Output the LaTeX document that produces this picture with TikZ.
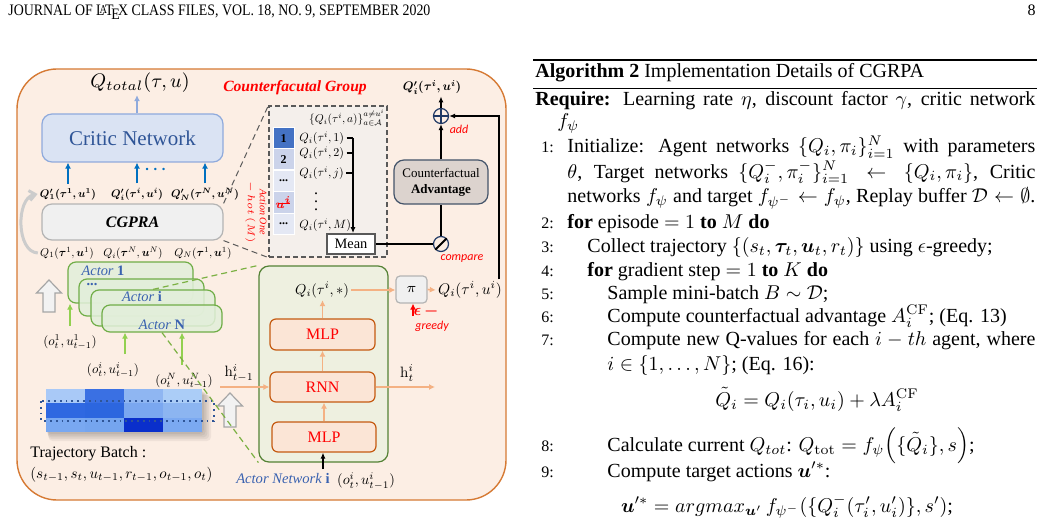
\RequirePackage{fix-cm}
\documentclass[tikz,border=0pt]{standalone}
\usepackage{amsmath,amssymb}
\usepackage{bm}
\usepackage{graphicx}
\usepackage[no-math]{fontspec}
\setmainfont{Liberation Serif}
\newfontfamily\labelfont{Carlito}
\usepackage{tikz}
\usetikzlibrary{arrows.meta,positioning,calc}
\definecolor{panelbg}{HTML}{FCEEE4}
\definecolor{panelln}{HTML}{D67A34}
\definecolor{criticbg}{HTML}{DAE3F3}
\definecolor{criticln}{HTML}{8FAADC}
\definecolor{critictx}{HTML}{2F5597}
\definecolor{actortx}{HTML}{3A62B0}
\definecolor{arrblue}{HTML}{0070C0}
\definecolor{cgbg}{HTML}{F0F0F0}
\definecolor{cgln}{HTML}{B4B4B4}
\definecolor{groupbg}{HTML}{F4EFEB}
\definecolor{inkgray}{HTML}{595959}
\definecolor{actbg}{HTML}{E2EFDA}
\definecolor{actln}{HTML}{70AD47}
\definecolor{netbg}{HTML}{EEF0E0}
\definecolor{netln}{HTML}{548235}
\definecolor{mlpbg}{HTML}{FBE5D6}
\definecolor{mlpln}{HTML}{C55A11}
\definecolor{arrorange}{HTML}{F4B183}
\definecolor{arrgreen}{HTML}{92D050}
\definecolor{advbg}{HTML}{DCD3CE}
\definecolor{advln}{HTML}{44546A}
\definecolor{navy}{HTML}{1F3864}
\definecolor{hollowbg}{HTML}{F2F2F2}
\definecolor{hollowln}{HTML}{A6A6A6}
\definecolor{hot1}{HTML}{4472C4}
\definecolor{hot2}{HTML}{CBD3EA}
\definecolor{hot3}{HTML}{E4E8F4}
\newcommand{\fsz}[1]{\fontsize{#1}{#1}\selectfont}
\newcommand{\smath}[2]{\scalebox{#1}{$#2$}}
\tikzset{
  panel/.style={draw=panelln,fill=panelbg,line width=0.7pt,rounded corners=20pt},
  critic/.style={draw=criticln,fill=criticbg,line width=0.6pt,rounded corners=5pt,
                 text=critictx,font=\fsz{10.5}},
  cgbox/.style={draw=cgln,fill=cgbg,line width=0.6pt,rounded corners=5pt,
                font=\bfseries\itshape\fsz{8}},
  groupbox/.style={draw=inkgray,fill=groupbg,line width=0.6pt,dash pattern=on 2.5pt off 1.5pt},
  onehot/.style={draw=white,line width=0.5pt,inner sep=0pt,font=\bfseries\fsz{6}},
  meanbox/.style={draw=inkgray,fill=white,line width=0.9pt,inner sep=0pt,font=\fsz{7.2}},
  advbox/.style={draw=advln,fill=advbg,line width=0.6pt,rounded corners=5pt,
                 align=center,font=\fontsize{6.5}{8}\selectfont,inner sep=1pt},
  opcircle/.style={circle,draw=navy,line width=0.6pt,minimum size=7.5pt,inner sep=0pt},
  actorbox/.style={draw=actln,fill=actbg,fill opacity=0.85,line width=0.6pt,rounded corners=4pt},
  actorlbl/.style={text=actortx,font=\fsz{7.2},inner sep=0pt},
  netbox/.style={draw=netln,fill=netbg,line width=0.6pt,rounded corners=5pt},
  layerbox/.style={draw=mlpln,fill=mlpbg,line width=0.6pt,rounded corners=3pt,
                   text=red,font=\fsz{8}},
  pibox/.style={draw=cgln,fill=cgbg,line width=0.6pt,rounded corners=2pt,font=\fsz{7}},
  mathlbl/.style={inner sep=1pt,font=\fsz{10}},
  redlbl/.style={text=red,font=\labelfont\itshape\fsz{6},inner sep=1pt},
  hollowarr/.style={draw=hollowln,fill=hollowbg,line width=0.6pt},
  bluearr/.style={-{Latex[length=3pt,width=3pt]},draw=arrblue,line width=0.9pt},
  lightarr/.style={-{Latex[length=3pt,width=3pt]},draw=criticln,line width=0.9pt},
  orangearr/.style={-{Latex[length=3pt,width=3pt]},draw=arrorange,line width=0.8pt},
  greenarr/.style={-{Latex[length=3pt,width=3pt]},draw=arrgreen,line width=0.9pt},
  blackarr/.style={-{Latex[length=3pt,width=2.5pt]},line width=0.8pt},
  redarr/.style={-{Latex[length=3pt,width=3pt]},draw=red,line width=0.9pt},
  greendash/.style={draw=arrgreen!85!black,dash pattern=on 3pt off 2pt,line width=0.6pt},
  graydash/.style={draw=inkgray,dash pattern=on 3pt off 2pt,line width=0.5pt},
  loopback/.style={draw=black!20,line width=1.5pt,-{Straight Barb[length=3pt,width=5pt]}},
  algtext/.style={anchor=base west,inner sep=0pt,font=\fsz{10}},
  algnum/.style={anchor=base west,inner sep=0pt,font=\fsz{8}},
  head/.style={anchor=base west,inner sep=0pt,font=\fsz{8}}
}

\begin{document}
\begin{tikzpicture}[x=0.5pt,y=-0.5pt]
\useasboundingbox (0,0) rectangle (1042,518);
\fill[white] (0,0) rectangle (1042,518);

% running head
\node[head] (runhead) at (8,16)
  {\resizebox{211pt}{\height}{JOURNAL OF \LaTeX\ CLASS FILES, VOL. 18, NO. 9, SEPTEMBER 2020}};
\node[head,anchor=base east] (pagenum) at (1036,16) {8};

% ---------------- figure ----------------
\draw[panel] (17,69) rectangle (506,500);

% critic part
\node[critic,minimum width=90.5pt,minimum height=24pt] (critic) at (132.5,138) {Critic Network};
\node[mathlbl,font=\fsz{9.8}] (qtotal) at (140,83) {$Q_{total}(\tau,u)$};
\node[mathlbl] (q1p) at (68,194) {\smath{0.55}{\bm{Q'_1(\tau^1,u^1)}}};
\node[mathlbl] (qip) at (137,194) {\smath{0.55}{\bm{Q'_i(\tau^i,u^i)}}};
\node[mathlbl] (qNp) at (205,194) {\smath{0.55}{\bm{Q'_N(\tau^N,u^N)}}};
\node[mathlbl,font=\fsz{8},text=arrblue] (qdots) at (157,170) {$\bm{\cdots}$};
\draw[lightarr] (critic.north -| qip) -- (qtotal.south -| qip);
\foreach \q in {q1p,qip,qNp}
  \draw[bluearr] ([yshift=1pt]\q.north) -- (critic.south -| \q);

% CGPRA
\node[cgbox,minimum width=90.5pt,minimum height=18pt] (cgpra) at (132.5,222) {CGPRA};
\node[mathlbl] (q1) at (67,253) {\smath{0.57}{Q_1(\bm{\tau}^1,\bm{u}^1)}};
\node[mathlbl] (qi) at (133,253) {\smath{0.57}{Q_i(\bm{\tau}^N,\bm{u}^N)}};
\node[mathlbl] (qN) at (203,253) {\smath{0.57}{Q_N(\bm{\tau}^1,\bm{u}^1)}};
\draw[loopback] (q1.west) .. controls (16,252) and (16,198) .. (q1p.west);

% counterfactual group
\node[groupbox,minimum width=59pt,minimum height=75.5pt] (group) at (328,181.5) {};
\node[text=red,font=\bfseries\itshape\fsz{7.8}] (grouptitle) at (295,88) {Counterfacutal Group};
\draw[graydash] (cgpra.north east) -- (group.north west);
\draw[graydash] (cgpra.south east) -- (group.south west);
\node[mathlbl] (qset) at (347,118) {\smath{0.57}{\{Q_i(\tau^i,a)\}_{a\in\mathcal{A}}^{a\neq u^i}}};
\foreach \lab/\clr/\y [count=\k] in {{1}/hot1/138.5,{2}/hot2/159.5,{...}/hot3/181,
    {\color{red}$\bm{u^i}$}/hot2/202.5,{...}/hot3/224}
  \node[onehot,fill=\clr,minimum width=10.5pt,minimum height=10.5pt] (cell\k) at (283.5,\y) {\lab};
\draw[red,line width=0.5pt] ([xshift=-3pt,yshift=-0.5pt]cell4.center) -- ([xshift=3pt,yshift=-0.5pt]cell4.center);
\node[text=red,font=\itshape\fontsize{5}{6}\selectfont,rotate=-90,align=center,inner sep=0pt]
  (onehotlbl) at (256,212) {Action One\\$-\,hot\ (M)$};
\node[mathlbl,anchor=west] (qa1) at (297,138) {\smath{0.6}{Q_i(\tau^i,1)}};
\node[mathlbl,anchor=west] (qa2) at (297,153) {\smath{0.6}{Q_i(\tau^i,2)}};
\node[mathlbl,anchor=west] (qaj) at (297,173) {\smath{0.6}{Q_i(\tau^i,j)}};
\node[mathlbl,font=\fsz{8}] (qvdots) at (316,196) {$\vdots$};
\node[mathlbl,anchor=west] (qaM) at (297,225) {\smath{0.6}{Q_i(\tau^i,M)}};
\node[meanbox,minimum width=24pt,minimum height=10pt] (mean) at (351,244) {Mean};
\coordinate (bus) at (353,138);
\foreach \q in {qa1,qa2,qaj,qaM}
  \draw[line width=0.7pt] (\q.east) -- (\q.east -| bus);
\draw[blackarr,line width=0.7pt] (qa1.east -| bus) -- (mean.north -| bus);

% advantage branch
\node[advbox,minimum width=47pt,minimum height=22pt] (adv) at (441,182) {Counterfactual\\\textbf{Advantage}};
\node[opcircle] (addop) at (441,116) {};
\node[opcircle] (cmpop) at (441,244) {};
\draw[navy,line width=0.6pt] (addop.north) -- (addop.south) (addop.west) -- (addop.east);
\draw[line width=1pt] (cmpop.south west) -- (cmpop.north east);
\node[redlbl] (addlbl) at (459,129) {add};
\node[redlbl] (cmplbl) at (462,259) {compare};
\node[mathlbl] (qnew) at (432,87) {\smath{0.62}{\bm{Q'_i(\tau^i,u^i)}}};
\draw[blackarr] (addop.north) -- (qnew.south -| addop);
\draw[blackarr] (adv.north) -- (addop.south);
\draw[line width=0.8pt] (cmpop.north) -- (adv.south);
\draw[line width=0.8pt] (mean.east) -- (cmpop.west);

% actors
\foreach \n/\cx/\cy/\w/\h/\lx/\ly/\txt in {
    1/130.5/282.5/62.5pt/20.5pt/103/271/{\textit{Actor} \textbf{1}},
    2/141.5/297.5/62.5pt/18.5pt/92/285/{\textbf{...}},
    3/153/308/62pt/18pt/142/297/{\textit{Actor} \textbf{i}},
    4/162/318.5/60pt/13.5pt/162/325/{\textit{Actor} \textbf{N}}}{
  \node[actorbox,minimum width=\w,minimum height=\h] (actor\n) at (\cx,\cy) {};
  \node[actorlbl] (actorlbl\n) at (\lx,\ly) {\txt};
}
\node[mathlbl] (in1) at (70,342) {\smath{0.65}{(o_t^1,u_{t-1}^1)}};
\node[mathlbl] (ini) at (113,370) {\smath{0.65}{(o_t^i,u_{t-1}^i)}};
\node[mathlbl] (inN) at (184,381) {\smath{0.65}{(o_t^N,u_{t-1}^N)}};
\draw[greenarr] ([yshift=3pt]in1.north) -- (in1.north |- actor1.south);
\draw[greenarr] ([xshift=6pt,yshift=3pt]ini.north) -- ([xshift=6pt]ini.north |- actor4.south);
\draw[greenarr] ([xshift=-1pt,yshift=3pt]inN.north) -- ([xshift=-1pt]inN.north |- actor4.south);
\foreach \ax/\ay/\by in {49/280/312,230/393/427}
  \draw[hollowarr] (\ax-6,\by) -- (\ax-6,\ay+13) -- (\ax-12.5,\ay+13) -- (\ax,\ay)
    -- (\ax+12.5,\ay+13) -- (\ax+6,\ay+13) -- (\ax+6,\by) -- cycle;

% actor network
\node[netbox,minimum width=64.5pt,minimum height=98pt] (net) at (323.5,364) {};
\draw[greendash] (actor3.north) -- (net.north west);
\draw[greendash] (actor4.south) -- (net.south west);
\node[layerbox,minimum width=52.5pt,minimum height=15.5pt] (mlp2) at (322.5,334.5) {MLP};
\node[layerbox,minimum width=52.5pt,minimum height=15pt] (rnn) at (322.5,387) {RNN};
\node[layerbox,minimum width=52pt,minimum height=15pt] (mlp1) at (324,437) {MLP};
\node[mathlbl] (qstar) at (322,290) {\smath{0.72}{Q_i(\tau^i,*)}};
\draw[orangearr] (mlp1.north) -- (mlp1.north |- rnn.south);
\draw[orangearr] (rnn.north) -- (mlp2.south);
\draw[orangearr] (mlp2.north) -- (qstar.south -| mlp2);
\coordinate (hin) at (220,387);
\coordinate (hout) at (435,387);
\draw[orangearr] (hin) -- (rnn.west);
\draw[orangearr] (rnn.east) -- (hout);
\node[mathlbl] (hprev) at (239,373) {\smath{0.75}{\mathrm{h}_{t-1}^i}};
\node[mathlbl] (hnext) at (407,373) {\smath{0.75}{\mathrm{h}_{t}^i}};
\node[mathlbl] (inet) at (366,481) {\smath{0.72}{(o_t^i,u_{t-1}^i)}};
\coordinate (netin) at (323,469);
\draw[blackarr] (netin) -- (netin |- mlp1.south);
\node[actorlbl,font=\fsz{7.3}] (netlbl) at (283,479) {\textit{Actor Network} \textbf{i}};

% policy
\node[pibox,minimum width=15.5pt,minimum height=13.5pt] (pi) at (411.5,289.5) {$\pi$};
\node[mathlbl] (qsel) at (470,290) {\smath{0.77}{Q_i(\tau^i,u^i)}};
\draw[orangearr] (qstar.east) -- (qstar.east -| pi.west);
\draw[orangearr] (pi.east) -- (qsel.west);
\coordinate (epsin) at (413,316);
\draw[redarr] (epsin) -- (epsin |- pi.south);
\node[text=red,font=\fsz{8}] (epslbl) at (426,311) {$\bm{\epsilon\,-}$};
\node[redlbl] (greedylbl) at (432,326) {greedy};
\draw[blackarr] ([xshift=-2.5pt]qsel.north east) |- (addop.east);

% trajectory batch
\foreach \s in {1,...,5}
  \fill[black,opacity=0.05,rounded corners=2pt] (46+\s*0.5,389+\s*1.2) rectangle (202+\s*1.8,432+\s*1.8);
\foreach \xa/\ya/\hx in {46/389/A9C9F7,85/389/3A70E3,124/389/8FB6F2,163/389/ABCDF7,
    46/403.4/2F68E1,85/403.4/2C66DF,124/403.4/7AA7F0,163/403.4/8CB5F1,
    46/417.8/79A8F1,85/417.8/75A5EF,124/417.8/0A2FCB,163/417.8/7BA9F1}{
  \definecolor{cellclr}{HTML}{\hx}
  \fill[cellclr] (\xa,\ya) rectangle +(39,14.4);
}
\draw[critictx,dotted,line width=0.9pt] (41,401) rectangle (214,421);
\node[anchor=base west,inner sep=0pt,font=\fsz{8}] (batchlbl) at (30,457) {Trajectory Batch :};
\node[anchor=base west,inner sep=0pt,font=\fsz{10}] (batchtup) at (30,478)
  {\smath{0.75}{(s_{t-1},s_t,u_{t-1},r_{t-1},o_{t-1},o_t)}};

% ---------------- algorithm ----------------
\draw[line width=0.8pt] (533,60) -- (1037,60);
\node[algtext] (algtitle) at (535,78) {\textbf{Algorithm 2} Implementation Details of CGRPA};
\draw[line width=0.4pt] (533,88) -- (1037,88);
\node[algtext] (req) at (535,106)
  {\hbox to 250pt{\textbf{Require:} Learning rate $\eta$, discount factor $\gamma$, critic network}};
\node[algtext] (req2) at (557,128) {$f_\psi$};
\node[algnum] (n1) at (541,153) {1:};
\node[algtext] (l1a) at (567,153)
  {\hbox to 234pt{Initialize: Agent networks $\{Q_i,\pi_i\}_{i=1}^N$ with parameters}};
\node[algtext] (l1b) at (567,178)
  {\hbox to 234pt{$\theta$, Target networks $\{Q_i^-,\pi_i^-\}_{i=1}^N \leftarrow \{Q_i,\pi_i\}$, Critic}};
\node[algtext] (l1c) at (567,203)
  {\hbox to 234pt{networks $f_\psi$ and target $f_{\psi^-}\leftarrow f_\psi$, Replay buffer $\mathcal{D}\leftarrow\emptyset$.}};
\node[algnum] (n2) at (541,228) {2:};
\node[algtext] (l2) at (567,228) {\textbf{for} episode $=1$ \textbf{to} $M$ \textbf{do}};
\node[algnum] (n3) at (541,252) {3:};
\node[algtext] (l3) at (587,252) {Collect trajectory $\{(s_t,\bm{\tau}_t,\bm{u}_t,r_t)\}$ using $\epsilon$-greedy;};
\node[algnum] (n4) at (541,276) {4:};
\node[algtext] (l4) at (587,276) {\textbf{for} gradient step $=1$ \textbf{to} $K$ \textbf{do}};
\node[algnum] (n5) at (541,299) {5:};
\node[algtext] (l5) at (607,299) {Sample mini-batch $B\sim\mathcal{D}$;};
\node[algnum] (n6) at (541,322) {6:};
\node[algtext] (l6) at (607,322) {Compute counterfactual advantage $A_i^{\mathrm{CF}}$; (Eq. 13)};
\node[algnum] (n7) at (541,345) {7:};
\node[algtext] (l7a) at (607,345) {\hbox to 214pt{Compute new Q-values for each $i-th$ agent, where}};
\node[algtext] (l7b) at (607,370) {$i\in\{1,\dots,N\}$; (Eq. 16):};
\node[algtext,anchor=base] (eq1) at (817,406) {$\tilde{Q}_i = Q_i(\tau_i,u_i)+\lambda A_i^{\mathrm{CF}}$};
\node[algnum] (n8) at (541,451) {8:};
\node[algtext] (l8) at (607,451) {Calculate current $Q_{tot}$: $Q_{\mathrm{tot}}=f_\psi\Big(\{\tilde{Q}_i\},s\Big)$;};
\node[algnum] (n9) at (541,477) {9:};
\node[algtext] (l9) at (607,477) {Compute target actions $\bm{u}'^*$:};
\node[algtext,anchor=base] (eq2) at (787,512)
  {$\bm{u}'^* = argmax_{\bm{u}'}\, f_{\psi^-}(\{Q_i^-(\tau_i',u_i')\},s')$;};
\end{tikzpicture}
\end{document}
